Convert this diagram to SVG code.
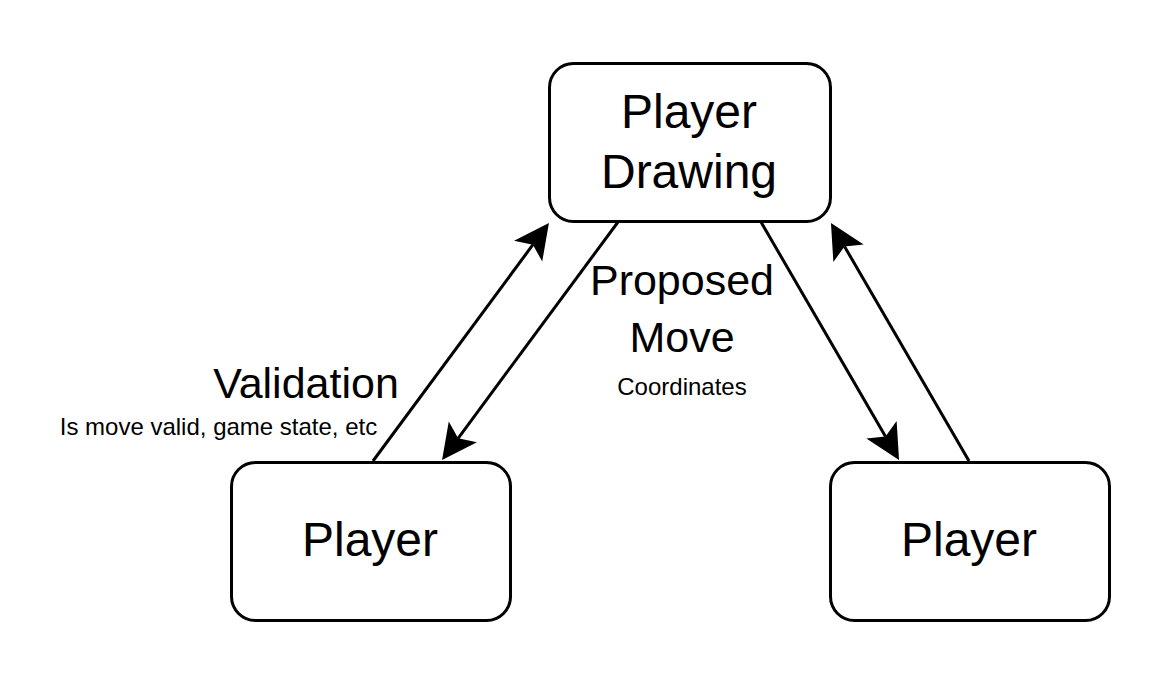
<svg xmlns="http://www.w3.org/2000/svg" width="1172" height="684" viewBox="0 0 1172 684">
<style>
.box{fill:#fff;stroke:#000;stroke-width:3}
.edge{fill:none;stroke:#000;stroke-width:3}
text{font-family:"Liberation Sans",Arial,sans-serif;fill:#000;text-anchor:middle}
.big{font-size:48px}
.mid{font-size:43px}
.small{font-size:24px}
</style>
<defs>
<marker id="arrow" markerUnits="userSpaceOnUse" orient="auto" refX="0" refY="0" markerWidth="80" markerHeight="80" viewBox="-40 -40 80 80" overflow="visible">
<path d="M27,0 L-8,-17.5 L0,0 L-8,17.5 Z" fill="#000"/>
</marker>
</defs>
<rect width="1172" height="684" fill="#fff"/>
<g id="connectors">
<path class="edge" d="M373,461 L532.9,244.7" marker-end="url(#arrow)"/>
<path class="edge" d="M618,222 L458.1,438.3" marker-end="url(#arrow)"/>
<path class="edge" d="M761,222 L885.5,436.6" marker-end="url(#arrow)"/>
<path class="edge" d="M969,461 L844.5,246.4" marker-end="url(#arrow)"/>
</g>
<g id="player-drawing">
<rect class="box" x="549.5" y="63.5" width="281" height="158" rx="24"/>
<text class="big" x="689" y="128">Player</text>
<text class="big" x="689" y="188">Drawing</text>
</g>
<g id="player-left">
<rect class="box" x="231.5" y="462.5" width="279" height="158" rx="24"/>
<text class="big" x="370" y="556">Player</text>
</g>
<g id="player-right">
<rect class="box" x="830.5" y="462.5" width="279" height="158" rx="24"/>
<text class="big" x="969" y="556">Player</text>
</g>
<g id="label-proposed">
<text class="mid" x="682" y="295">Proposed</text>
<text class="mid" x="682" y="352">Move</text>
<text class="small" x="682" y="395">Coordinates</text>
</g>
<g id="label-validation">
<text class="mid" x="306" y="398">Validation</text>
<text class="small" x="218.5" y="435">Is move valid, game state, etc</text>
</g>
</svg>
